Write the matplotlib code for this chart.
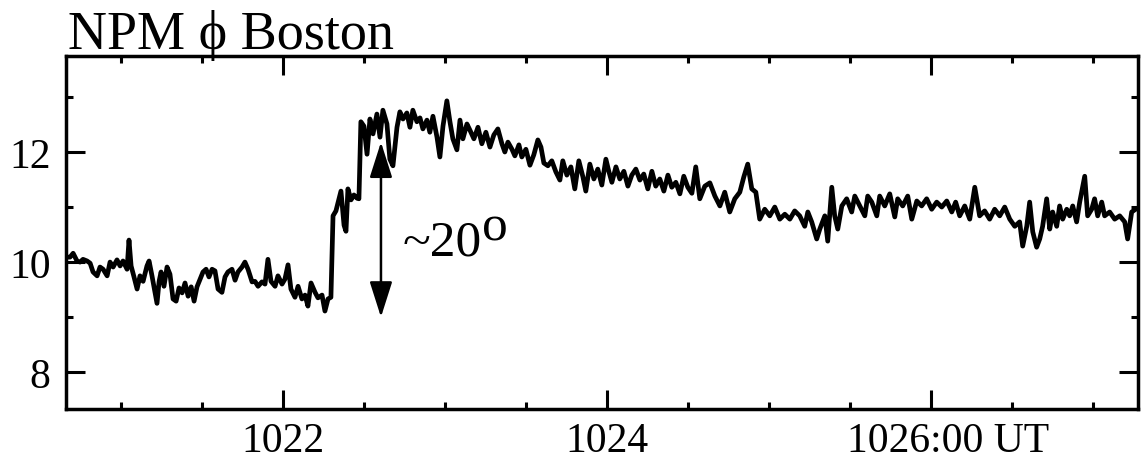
import matplotlib.pyplot as plt
import matplotlib.transforms as mtransforms
from matplotlib.ticker import MultipleLocator

# Serif font (Times-like), with a fallback for the Greek letter
plt.rcParams['font.family'] = ['Liberation Serif', 'DejaVu Serif']

# --- Data: phase (degrees) vs time (minutes, UT) ---
# quiet part before the event
t_calme = [1020.667, 1020.685, 1020.704, 1020.728, 1020.747, 1020.765, 1020.790, 1020.809, 1020.827, 1020.852,
           1020.870, 1020.889, 1020.914, 1020.932, 1020.951, 1020.975, 1020.994, 1021.012, 1021.037, 1021.049,
           1021.062, 1021.080, 1021.099, 1021.117, 1021.136, 1021.160, 1021.173, 1021.191, 1021.210, 1021.222,
           1021.235, 1021.247, 1021.265, 1021.284, 1021.302, 1021.321, 1021.340, 1021.358, 1021.377, 1021.395,
           1021.414, 1021.433, 1021.451, 1021.469, 1021.488, 1021.506, 1021.525, 1021.543, 1021.562, 1021.580,
           1021.599, 1021.623, 1021.642, 1021.660, 1021.685, 1021.704, 1021.722, 1021.747, 1021.765, 1021.784,
           1021.809, 1021.827, 1021.846, 1021.870, 1021.889, 1021.907, 1021.926, 1021.951, 1021.969, 1021.994,
           1022.012, 1022.031, 1022.049, 1022.074, 1022.093, 1022.117, 1022.136, 1022.154, 1022.173, 1022.198,
           1022.216, 1022.241, 1022.259, 1022.278, 1022.296]
phi_calme = [10.09, 10.09, 10.16, 10.02, 10.00, 10.05, 10.02, 9.98, 9.82, 9.75,
             9.91, 9.87, 9.75, 10.00, 9.91, 10.04, 9.93, 10.02, 9.87, 10.40,
             9.93, 9.73, 9.51, 9.75, 9.65, 9.93, 10.02, 9.75, 9.45, 9.25,
             9.65, 9.82, 9.56, 9.91, 9.78, 9.33, 9.29, 9.53, 9.44, 9.62,
             9.38, 9.55, 9.29, 9.55, 9.69, 9.82, 9.87, 9.73, 9.87, 9.84,
             9.51, 9.45, 9.73, 9.82, 9.87, 9.67, 9.82, 9.91, 10.00, 9.87,
             9.64, 9.65, 9.56, 9.64, 9.60, 10.05, 9.65, 9.56, 9.75, 9.60,
             9.69, 9.95, 9.51, 9.36, 9.56, 9.33, 9.40, 9.20, 9.62, 9.45,
             9.35, 9.40, 9.11, 9.33, 9.36]

# step up and peak
t_saut = [1022.309, 1022.327, 1022.346, 1022.358, 1022.377, 1022.389, 1022.401, 1022.420, 1022.438, 1022.457,
          1022.469, 1022.481, 1022.500, 1022.519, 1022.537, 1022.556, 1022.580, 1022.599, 1022.617, 1022.642,
          1022.660, 1022.679, 1022.704, 1022.722, 1022.741, 1022.765, 1022.784, 1022.802, 1022.827, 1022.846,
          1022.864, 1022.889, 1022.907, 1022.926, 1022.951, 1022.969, 1022.988, 1023.012, 1023.031, 1023.049,
          1023.074, 1023.093, 1023.111, 1023.136, 1023.154]
phi_saut = [10.84, 10.93, 11.15, 11.29, 10.67, 10.56, 11.33, 11.13, 11.22, 11.16,
            11.15, 12.55, 12.47, 11.96, 12.60, 12.33, 12.69, 12.27, 12.76, 12.51,
            11.87, 11.75, 12.45, 12.73, 12.60, 12.71, 12.45, 12.76, 12.55, 12.62,
            12.42, 12.58, 12.36, 12.65, 12.27, 11.91, 12.47, 12.93, 12.55, 12.24,
            12.04, 12.58, 12.24, 12.51, 12.40]

# slow decay
t_decroit = [1023.179, 1023.204, 1023.228, 1023.253, 1023.278, 1023.302, 1023.327, 1023.352, 1023.370, 1023.389,
             1023.414, 1023.432, 1023.457, 1023.475, 1023.500, 1023.525, 1023.549, 1023.574, 1023.593, 1023.611,
             1023.636, 1023.660, 1023.685, 1023.710, 1023.728, 1023.753, 1023.778, 1023.802, 1023.827, 1023.852,
             1023.870, 1023.895, 1023.920, 1023.944, 1023.969, 1023.994, 1024.012, 1024.031, 1024.056, 1024.080,
             1024.105, 1024.130, 1024.154, 1024.179, 1024.204, 1024.228, 1024.253, 1024.278, 1024.302, 1024.327,
             1024.352, 1024.377, 1024.401, 1024.426, 1024.451, 1024.475, 1024.500, 1024.525, 1024.549, 1024.574]
phi_decroit = [12.24, 12.45, 12.15, 12.36, 12.09, 12.31, 12.42, 12.15, 12.00, 12.18,
               12.05, 11.93, 12.13, 11.91, 12.05, 11.76, 11.95, 12.22, 12.09, 11.80,
               11.75, 11.84, 11.64, 11.49, 11.84, 11.58, 11.73, 11.33, 11.84, 11.55,
               11.29, 11.78, 11.51, 11.69, 11.40, 11.87, 11.65, 11.45, 11.73, 11.51,
               11.65, 11.38, 11.58, 11.69, 11.49, 11.60, 11.33, 11.65, 11.38, 11.51,
               11.29, 11.58, 11.36, 11.45, 11.24, 11.56, 11.36, 11.25, 11.73, 11.15]

# late plateau
t_plateau = [1024.605, 1024.636, 1024.667, 1024.698, 1024.728, 1024.759, 1024.790, 1024.821, 1024.846, 1024.870,
             1024.895, 1024.920, 1024.944, 1024.975, 1025.006, 1025.037, 1025.068, 1025.099, 1025.130, 1025.160,
             1025.191, 1025.222, 1025.241, 1025.265, 1025.296, 1025.315, 1025.346, 1025.364, 1025.389, 1025.407,
             1025.426, 1025.451, 1025.481, 1025.512, 1025.531, 1025.562, 1025.593, 1025.611, 1025.636, 1025.667,
             1025.685, 1025.716, 1025.747, 1025.778, 1025.796, 1025.827, 1025.858, 1025.883, 1025.914, 1025.944,
             1025.975, 1026.006, 1026.037, 1026.068, 1026.099, 1026.130, 1026.154, 1026.179, 1026.210, 1026.241,
             1026.272, 1026.302, 1026.333, 1026.364, 1026.395, 1026.426, 1026.457, 1026.488, 1026.519, 1026.549,
             1026.568, 1026.593, 1026.611, 1026.630, 1026.654, 1026.673, 1026.691, 1026.716, 1026.735, 1026.753,
             1026.778, 1026.796, 1026.815, 1026.840, 1026.858, 1026.877, 1026.901, 1026.920, 1026.951, 1026.969,
             1026.994, 1027.012, 1027.031, 1027.056, 1027.074, 1027.105, 1027.136, 1027.167, 1027.198, 1027.216,
             1027.241, 1027.265]
phi_plateau = [11.38, 11.44, 11.20, 11.02, 11.27, 10.91, 11.15, 11.27, 11.55, 11.78,
               11.33, 11.27, 10.78, 10.96, 10.84, 11.00, 10.78, 10.87, 10.78, 10.93,
               10.84, 10.65, 10.91, 10.73, 10.42, 10.60, 10.84, 10.38, 11.36, 10.84,
               10.60, 11.02, 11.15, 10.91, 11.20, 11.02, 10.84, 11.20, 11.09, 10.84,
               11.20, 11.02, 11.24, 10.82, 11.15, 11.02, 11.20, 10.78, 11.11, 11.02,
               11.15, 10.96, 11.09, 11.00, 11.11, 10.91, 11.09, 10.84, 11.02, 10.78,
               11.36, 10.84, 10.93, 10.78, 10.96, 10.84, 11.00, 10.78, 10.65, 10.73,
               10.29, 10.65, 11.09, 10.55, 10.27, 10.42, 10.65, 11.15, 10.60, 10.91,
               10.65, 11.02, 10.78, 10.96, 10.84, 11.02, 10.73, 11.09, 11.56, 10.84,
               10.96, 11.15, 10.84, 11.09, 10.84, 10.91, 10.78, 10.84, 10.73, 10.42,
               10.91, 10.96]

temps = t_calme + t_saut + t_decroit + t_plateau
phase = phi_calme + phi_saut + phi_decroit + phi_plateau

ticks_x = [1022, 1024, 1026]
labels_x = ['1022', '1024', '1026:00 UT']
ticks_y = [8, 10, 12]

# --- Figure ---
fig = plt.figure(figsize=(11.41, 4.6), dpi=100)
ax = fig.add_axes([66 / 1141, 1 - 410 / 460, (1138 - 66) / 1141, (410 - 57) / 460])

ax.plot(temps, phase, color='black', linewidth=3.4)

ax.set_xlim(1020.66, 1027.28)
ax.set_ylim(7.33, 13.745)

ax.set_xticks(ticks_x)
ax.set_xticklabels(labels_x)
ax.xaxis.set_minor_locator(MultipleLocator(0.5))
ax.set_yticks(ticks_y)
ax.yaxis.set_minor_locator(MultipleLocator(1))

ax.tick_params(which='both', direction='in', top=True, right=True, width=2.2, labelsize=30)
ax.tick_params(which='major', length=14)
ax.tick_params(which='minor', length=5)
ax.tick_params(axis='x', pad=9)
ax.tick_params(axis='y', pad=11)
for spine in ax.spines.values():
    spine.set_linewidth(2.5)

# the "1026:00 UT" label sits a bit to the right of its tick
decal = mtransforms.ScaledTranslation(0.17, 0, fig.dpi_scale_trans)
lab = ax.xaxis.get_major_ticks()[2].label1
lab.set_transform(lab.get_transform() + decal)

# title above the frame
fig.text(68 / 1141, 1 - 49 / 460, 'NPM ϕ Boston', fontsize=39, ha='left', va='baseline')

# double arrow for the ~20 degree step
ax.annotate('', xy=(1022.605, 12.18), xytext=(1022.605, 9.0),
            arrowprops=dict(arrowstyle='<|-|>,head_length=2.2,head_width=0.7',
                            color='black', lw=1.8, shrinkA=0, shrinkB=0))
ax.text(1022.741, 10.145, '~20', fontsize=37, ha='left', va='baseline')
ax.text(1023.228, 10.418, 'o', fontsize=37, ha='left', va='baseline')

fig.savefig('out.png', dpi=100)
